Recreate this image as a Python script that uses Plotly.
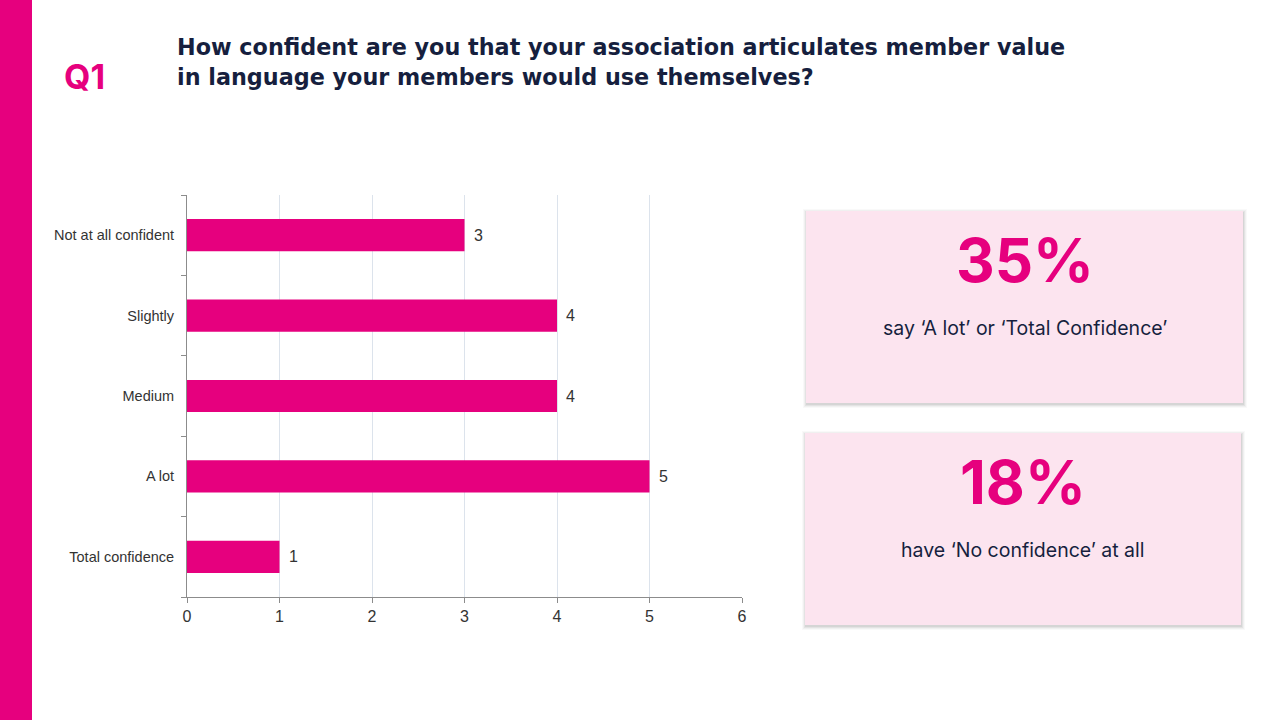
import plotly.graph_objects as go

categories = ["Not at all confident", "Slightly", "Medium", "A lot", "Total confidence"]
counts = [3, 4, 4, 5, 1]
x_ticks = [0, 1, 2, 3, 4, 5, 6]
title_lines = ["How confident are you that your association articulates member value",
               "in language your members would use themselves?"]
stat_values = ["35%", "18%"]
stat_captions = ["say ‘A lot’ or ‘Total Confidence’", "have ‘No confidence’ at all"]

MAGENTA = "#E6007E"
NAVY = "#161F3E"
PINK_BG = "#FCE4EF"

fig = go.Figure()
fig.add_trace(go.Bar(
    y=categories, x=counts, orientation="h",
    marker=dict(color=MAGENTA, line=dict(width=0)),
    hoverinfo="skip",
))

W, H = 1280, 720
fig.update_layout(
    width=W, height=H,
    margin=dict(l=187, r=W - 742, t=195, b=H - 597),
    paper_bgcolor="white", plot_bgcolor="white",
    showlegend=False, bargap=0.6,
    font=dict(family="Liberation Sans, Arial", size=14, color="#333333"),
)
fig.update_xaxes(
    range=[0, 6], tickvals=x_ticks, showgrid=True, gridcolor="#DCE3EC", gridwidth=1,
    showline=True, linecolor="#8C8C8C", linewidth=1,
    ticks="outside", ticklen=5, tickcolor="#8C8C8C",
    tickfont=dict(size=16, color="#333333"), zeroline=False, fixedrange=True,
)
fig.update_yaxes(
    categoryorder="array", categoryarray=categories[::-1],
    showline=True, linecolor="#8C8C8C", linewidth=1,
    ticks="outside", ticklen=5, tickcolor="#8C8C8C", tickson="boundaries",
    ticklabelstandoff=9,
    tickfont=dict(size=14.5, color="#333333"), showgrid=False, fixedrange=True,
)

shapes = [dict(type="rect", xref="paper", yref="paper", x0=-187 / 555, x1=(32 - 187) / 555,
               y0=-123 / 402, y1=(720 - 123) / 402, fillcolor=MAGENTA, line=dict(width=0), layer="below")]

def px_x(x):
    return (x - 187) / 555

def px_y(y):
    return (597 - y) / 402

boxes = [(806, 211, 1243, 403), (805, 433, 1241, 625)]
for (x0, y0, x1, y1) in boxes:
    for i, op in [(4, 0.025), (3, 0.035), (2, 0.05), (1, 0.06)]:
        shapes.append(dict(type="rect", xref="paper", yref="paper",
                           x0=px_x(x0 - i + 1), x1=px_x(x1 + i), y0=px_y(y1 + i + 1), y1=px_y(y0 - i + 2),
                           fillcolor=f"rgba(0,0,0,{op})", line=dict(width=0), layer="below"))
    shapes.append(dict(type="rect", xref="paper", yref="paper",
                       x0=px_x(x0), x1=px_x(x1), y0=px_y(y1), y1=px_y(y0),
                       fillcolor=PINK_BG, line=dict(width=0), layer="below"))
fig.update_layout(shapes=shapes)

ann = []
# data labels
for cat, val in zip(categories, counts):
    ann.append(dict(text=str(val), x=val, y=cat, xref="x", yref="y",
                    xanchor="left", yanchor="middle", xshift=7, showarrow=False,
                    font=dict(family="Liberation Sans, Arial", size=16, color="#333333")))
ann.append(dict(text="<b>Q1</b>", xref="paper", yref="paper", x=px_x(84), y=px_y(76),
                xanchor="center", yanchor="middle", showarrow=False,
                font=dict(family="Inter, Noto Sans", size=34, color=MAGENTA)))
for i, line in enumerate(title_lines):
    ann.append(dict(text="<b>" + line + "</b>", xref="paper", yref="paper", x=px_x(175), y=px_y(47 + 30 * i),
                    xanchor="left", yanchor="middle", showarrow=False,
                    font=dict(family="DejaVu Sans", size=22.3, color=NAVY)))
for (x0, y0, x1, y1), val, cap in zip(boxes, stat_values, stat_captions):
    cx = (x0 + x1) / 2
    ann.append(dict(text="<b>" + val + "</b>", xref="paper", yref="paper", x=px_x(cx), y=px_y(y0 + 49),
                    xanchor="center", yanchor="middle", showarrow=False,
                    font=dict(family="Inter, Noto Sans", size=60, color=MAGENTA)))
    ann.append(dict(text=cap, xref="paper", yref="paper", x=px_x(cx), y=px_y(y0 + 117),
                    xanchor="center", yanchor="middle", showarrow=False,
                    font=dict(family="Inter, Noto Sans", size=19.5, color=NAVY)))
fig.update_layout(annotations=ann)

fig.write_html("out.html", config={"displayModeBar": False})
